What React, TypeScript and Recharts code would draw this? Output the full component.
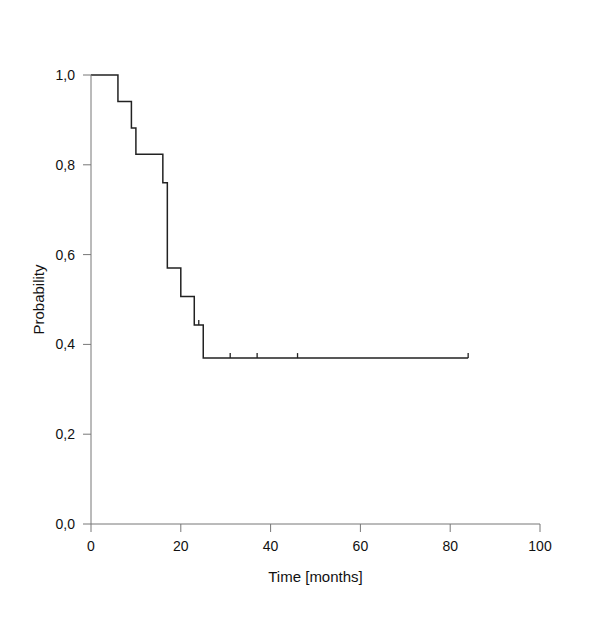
import React from 'react'
import { ComposedChart, Line, Scatter, XAxis, YAxis } from 'recharts'

// Kaplan-Meier estimate
const times = [0, 6, 9, 10, 16, 17, 20, 23, 25, 84]
const survival = [1.0, 0.941, 0.882, 0.8235, 0.760, 0.570, 0.5067, 0.4434, 0.3695, 0.3695]

// censored observations
const censorTimes = [24, 31, 37, 46, 84]
const censorSurvival = [0.4434, 0.3695, 0.3695, 0.3695, 0.3695]

const xTicks = [0, 20, 40, 60, 80, 100]
const yTicks = [0, 0.2, 0.4, 0.6, 0.8, 1.0]

const curve = times.map((t, i) => ({ t, s: survival[i] }))
const censored = censorTimes.map((t, i) => ({ t, s: censorSurvival[i] }))

const FONT = '"Liberation Sans", Arial, sans-serif'
const AXIS = '#777'

const CensorMark = (props: any) => {
  const { cx, cy } = props
  return <line x1={cx} y1={cy} x2={cx} y2={cy - 5} stroke="#222" strokeWidth={1.3} />
}

const YTitle = (props: any) => {
  const vb = props.viewBox || {}
  const x = 38
  const y = vb.y + vb.height / 2
  return (
    <text x={x} y={y} transform={`rotate(-90, ${x}, ${y})`} textAnchor="middle" dominantBaseline="central"
      fontSize={15} fontFamily={FONT} fill="#111">
      Probability
    </text>
  )
}

const App: React.FC = () => {
  return (
    <div style={{ position: 'absolute', left: 0, top: 0, background: '#fff' }}>
      <ComposedChart width={600} height={630} margin={{ top: 75, right: 60, bottom: 48, left: 0 }}>
        <XAxis
          type="number"
          dataKey="t"
          domain={[0, 100]}
          ticks={xTicks}
          height={58}
          stroke={AXIS}
          tickSize={8}
          tickMargin={9}
          tick={{ fill: '#111', fontSize: 14, fontFamily: FONT }}
          allowDataOverflow
          label={{ value: 'Time [months]', position: 'insideBottom', offset: 0, fill: '#111', fontSize: 15, fontFamily: FONT }}
        />
        <YAxis
          type="number"
          dataKey="s"
          domain={[0, 1]}
          ticks={yTicks}
          width={91}
          stroke={AXIS}
          tickSize={8}
          tickMargin={8}
          tick={{ fill: '#111', fontSize: 14, fontFamily: FONT }}
          tickFormatter={(v: number) => v.toFixed(1).replace('.', ',')}
          label={{ content: YTitle }}
        />
        <Line
          data={curve}
          dataKey="s"
          type="stepAfter"
          stroke="#222"
          strokeWidth={1.5}
          dot={false}
          activeDot={false}
          isAnimationActive={false}
        />
        <Scatter data={censored} dataKey="s" shape={CensorMark} isAnimationActive={false} />
      </ComposedChart>
    </div>
  )
}

export default App
